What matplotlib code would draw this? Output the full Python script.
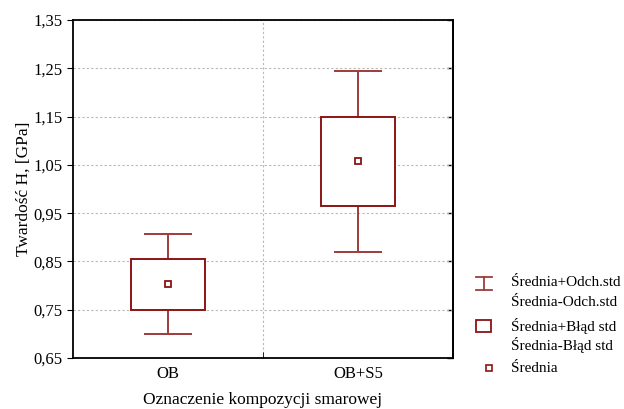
import matplotlib.pyplot as plt
import numpy as np
from matplotlib.patches import Rectangle
from matplotlib.lines import Line2D

# ── data ──────────────────────────────────────────────────────────────────
categories = ["OB", "OB+S5"]
means      = [0.803, 1.057]
std_dev    = [0.104, 0.188]    # mean ± std (whiskers)
std_err    = [0.053, 0.092]    # mean ± std error (box)
y_ticks    = [0.65, 0.75, 0.85, 0.95, 1.05, 1.15, 1.25, 1.35]

RED   = "#8b1414"
WHISK = "#9e3c3c"

plt.rcParams["font.family"] = ["Liberation Serif", "DejaVu Serif"]

fig = plt.figure(figsize=(6.24, 4.09), dpi=100)
ax  = fig.add_axes([73 / 624, 1 - 358 / 409, 380 / 624, 338 / 409])

x = np.arange(len(categories))
box_w, cap_w = 0.385, 0.25

ax.errorbar(x, means, yerr=std_dev, fmt="none", ecolor=WHISK,
            elinewidth=1.4, capsize=0, zorder=2)
for xi, m, sd in zip(x, means, std_dev):
    ax.hlines([m - sd, m + sd], xi - cap_w / 2, xi + cap_w / 2,
              color=WHISK, linewidth=1.4, zorder=2)
for xi, m, se in zip(x, means, std_err):
    ax.add_patch(Rectangle((xi - box_w / 2, m - se), box_w, 2 * se,
                           facecolor="white", edgecolor=RED,
                           linewidth=1.4, zorder=3))
ax.plot(x, means, linestyle="none", marker="s", markersize=5,
        markerfacecolor="white", markeredgecolor=RED,
        markeredgewidth=1.3, zorder=4)

ax.set_xlim(-0.5, 1.5)
ax.set_ylim(0.65, 1.35)
ax.set_yticks(y_ticks)
ax.set_yticklabels([f"{v:.2f}".replace(".", ",") for v in y_ticks])
ax.set_xticks(x)
ax.set_xticklabels(categories)
ax.set_xticks([0.5], minor=True)
ax.tick_params(axis="x", which="major", length=0, pad=6, labelsize=12)
ax.tick_params(axis="x", which="minor", length=4, direction="in")
ax.tick_params(axis="y", which="major", length=4, labelsize=12,
               direction="out")

# inward ticks on the right spine
sec = ax.secondary_yaxis("right")
sec.set_yticks(y_ticks)
sec.tick_params(direction="in", length=4, width=1, labelright=False)
sec.spines["right"].set_linewidth(1.3)

ax.grid(True, which="major", axis="y", linestyle=(0, (2, 2)),
        color="#b8b8b8", linewidth=0.8)
ax.grid(True, which="minor", axis="x", linestyle=(0, (2, 2)),
        color="#b8b8b8", linewidth=0.8)
ax.set_axisbelow(True)
for s in ax.spines.values():
    s.set_linewidth(1.3)

ax.set_ylabel("Twardość H, [GPa]", fontsize=12.5)
ax.yaxis.set_label_coords(-0.11, 0.5)
ax.set_xlabel("Oznaczenie kompozycji smarowej", fontsize=12.5)
ax.xaxis.set_label_coords(0.5, -0.1)

# ── legend drawn by hand to the right of the axes ─────────────────────────
def px(xp, yp):
    return xp / 624, 1 - yp / 409

tf = fig.transFigure
lw = 1.3
# errorbar glyph
for yy in (277, 290):
    fig.add_artist(Line2D([px(476, 0)[0], px(492, 0)[0]],
                          [px(0, yy)[1]] * 2, color=WHISK, lw=lw, transform=tf))
fig.add_artist(Line2D([px(484, 0)[0]] * 2, [px(0, 277)[1], px(0, 290)[1]],
                      color=WHISK, lw=lw, transform=tf))
# box glyph
x0, y0 = px(476, 332)
x1, y1 = px(491, 320)
fig.add_artist(Rectangle((x0, y0), x1 - x0, y1 - y0, transform=tf,
                         facecolor="white", edgecolor=RED, lw=lw))
# mean glyph
fig.add_artist(Line2D([px(489, 0)[0]], [px(0, 368)[1]], marker="s",
                      markersize=5, markerfacecolor="white",
                      markeredgecolor=RED, markeredgewidth=1.2,
                      linestyle="none", transform=tf))

legend_text = [
    (283, "Średnia+Odch.std"), (302, "Średnia-Odch.std"),
    (326, "Średnia+Błąd std"), (345, "Średnia-Błąd std"),
    (369, "Średnia"),
]
for yy, txt in legend_text:
    fig.text(*px(511, yy), txt, fontsize=11, va="center", ha="left")

fig.savefig("out.png", dpi=100)
